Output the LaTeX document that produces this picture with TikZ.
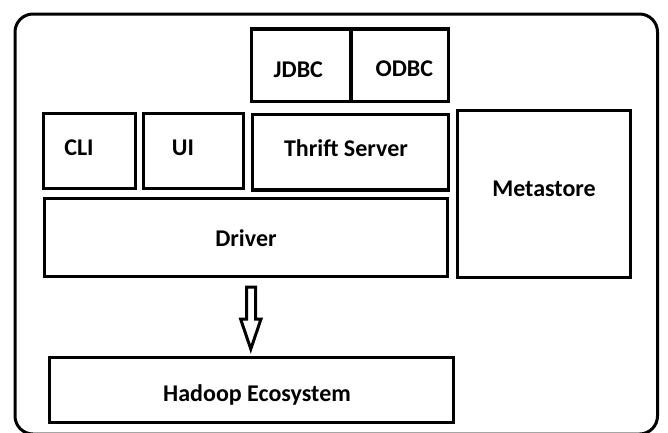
\documentclass[tikz,border=0pt]{standalone}
\usepackage{fontspec}
\setmainfont{Carlito}
\begin{document}
\begin{tikzpicture}[x=1pt,y=-1pt,
  box/.style={draw=black, line width=3.2pt, inner sep=0pt, rectangle},
  lbl/.style={anchor=base, inner sep=0pt, font=\fontsize{24}{28}\selectfont\bfseries}]
\clip (0,0) rectangle (668,432);
\fill[white] (0,0) rectangle (668,432);
% outer frame
\node[box, line width=3pt, rounded corners=18pt, minimum width=642.5pt, minimum height=420pt] (frame) at (336.25,224) {};
% boxes
\node[box, minimum width=99.5pt, minimum height=72.5pt] (jdbc) at (301.25,65.25) {};
\node[box, minimum width=97.5pt, minimum height=72.5pt] (odbc) at (399.75,65.25) {};
\node[box, minimum width=92pt, minimum height=75pt] (cli) at (89.5,151) {};
\node[box, minimum width=100pt, minimum height=75pt] (ui) at (193.5,151) {};
\node[box, minimum width=196pt, minimum height=75.5pt] (thrift) at (350.5,152.25) {};
\node[box, minimum width=173pt, minimum height=167pt] (meta) at (544,194) {};
\node[box, minimum width=403pt, minimum height=78pt] (driver) at (246,237.5) {};
\node[box, minimum width=404pt, minimum height=65pt] (hadoop) at (251.5,390) {};
% labels
\node[lbl] (tjdbc) at (298.3,77.5) {JDBC};
\node[lbl] (todbc) at (404.3,76.8) {ODBC};
\node[lbl] (tcli) at (79,155.3) {CLI};
\node[lbl] (tui) at (183,155.3) {UI};
\node[lbl] (tthrift) at (346,156.7) {Thrift Server};
\node[lbl] (tmeta) at (544,196.8) {Metastore};
\node[lbl] (tdriver) at (246,246.3) {Driver};
\node[lbl] (thadoop) at (257,401.8) {Hadoop Ecosystem};
% block arrow from driver to hadoop
\draw[line width=3pt, line join=miter, fill=white]
  (246.5,287) -- (255.5,287) -- (255.5,319) -- (261,319) -- (250.8,349)
  -- (240.6,319) -- (246.5,319) -- cycle;
\end{tikzpicture}
\end{document}
